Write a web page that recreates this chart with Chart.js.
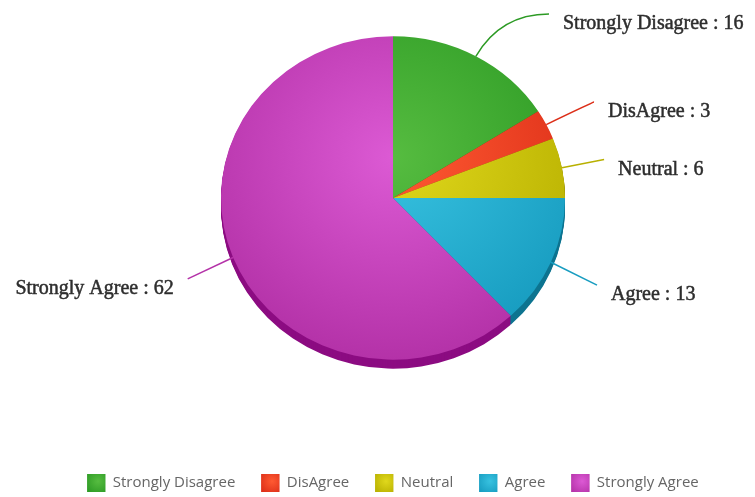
<!DOCTYPE html>
<html>
<head>
<meta charset="utf-8">
<script src="https://cdn.jsdelivr.net/npm/chart.js@4.4.0/dist/chart.umd.min.js"></script>
<style>
    html, body { margin: 0; padding: 0; background: #fff; overflow: hidden; }
    #wrap { width: 755px; height: 497px; }
</style>
</head>
<body>
<div id="wrap"><canvas id="pie-chart" width="755" height="497"></canvas></div>
<script>
const categories = ['Strongly Disagree', 'DisAgree', 'Neutral', 'Agree', 'Strongly Agree'];
const responses = [16, 3, 6, 13, 62];

const lightColors = ['#56bc40', '#ff5a32', '#e0d81c', '#38c2e0', '#dc5ad4'];
const baseColors = ['#2c9a24', '#dc2e18', '#b8b000', '#179cc0', '#b432a8'];
const sideColors = ['#1b6b14', '#a01c0c', '#868000', '#0d7490', '#8c0c82'];

const tilt = 0.94;   // vertical squash of the pie face
const depth = 9;     // thickness of the 3d side

function sliceGradient(c) {
    const chart = c.chart;
    const area = chart.chartArea;
    if (!area) return baseColors[c.dataIndex];
    const cx = (area.left + area.right) / 2;
    const cy = (area.top + area.bottom) / 2;
    const r = Math.min(area.width, area.height) / 2;
    const g = chart.ctx.createRadialGradient(cx, cy - r * 0.25, 0, cx, cy - r * 0.25, r * 1.25);
    g.addColorStop(0, lightColors[c.dataIndex]);
    g.addColorStop(1, baseColors[c.dataIndex]);
    return g;
}

const pie3d = {
    id: 'pie3d',
    beforeDatasetsDraw(chart) {
        const ctx = chart.ctx;
        const arcs = chart.getDatasetMeta(0).data;
        const cx = arcs[0].x, cy = arcs[0].y;
        for (let k = depth; k >= 1; k--) {
            ctx.save();
            ctx.translate(cx, cy + k);
            ctx.scale(1, tilt);
            ctx.translate(-cx, -cy);
            arcs.forEach((arc, i) => {
                ctx.beginPath();
                ctx.moveTo(arc.x, arc.y);
                ctx.arc(arc.x, arc.y, arc.outerRadius, arc.startAngle, arc.endAngle);
                ctx.closePath();
                ctx.fillStyle = sideColors[i];
                ctx.fill();
            });
            ctx.restore();
        }
        ctx.save();
        ctx.translate(cx, cy);
        ctx.scale(1, tilt);
        ctx.translate(-cx, -cy);
    },
    afterDatasetsDraw(chart) {
        chart.ctx.restore();
    }
};

const labelFontSize = 20;

const sliceLabels = {
    id: 'sliceLabels',
    afterDraw(chart) {
        const ctx = chart.ctx;
        const arcs = chart.getDatasetMeta(0).data;
        ctx.save();
        arcs.forEach((arc, i) => {
            const r = arc.outerRadius;
            const mid = (arc.startAngle + arc.endAngle) / 2;
            const cos = Math.cos(mid), sin = Math.sin(mid);
            const sign = cos >= 0 ? 1 : -1;
            const sx = arc.x + r * cos;
            const sy = arc.y + r * tilt * sin;
            let ly = arc.y + 1.25 * r * sin + 0.068 * r;
            ly = Math.max(ly, labelFontSize * 1.2);
            const lx = arc.x + sign * (0.68 * r + 0.64 * r * Math.abs(cos));
            const ex = lx - sign * 14, ey = ly - 10;
            let t = Math.abs(sin) > 0.05 ? (ey - sy) / (tilt * sin) : 0;
            let qx = sx + t * cos;
            if (sign > 0) qx = Math.min(Math.max(qx, sx), ex); else qx = Math.max(Math.min(qx, sx), ex);
            ctx.beginPath();
            ctx.moveTo(sx, sy);
            ctx.quadraticCurveTo(qx, ey, ex, ey);
            ctx.strokeStyle = baseColors[i];
            ctx.lineWidth = 1.5;
            ctx.stroke();

            ctx.font = labelFontSize + 'px "Liberation Serif", "Times New Roman", serif';
            ctx.fillStyle = '#2e2e2e';
            ctx.strokeStyle = '#2e2e2e';
            ctx.lineWidth = 0.5;
            ctx.textAlign = sign > 0 ? 'left' : 'right';
            ctx.textBaseline = 'middle';
            const text = categories[i] + ' : ' + responses[i];
            ctx.fillText(text, lx, ly);
            ctx.strokeText(text, lx, ly);
        });
        ctx.restore();

        // gradient legend boxes
        const legend = chart.legend;
        const bw = legend.options.labels.boxWidth, bh = legend.options.labels.boxHeight;
        legend.legendHitBoxes.forEach((box, i) => {
            const g = ctx.createRadialGradient(box.left + bw * 0.6, box.top + bh * 0.4, 0, box.left + bw * 0.6, box.top + bh * 0.4, bw * 0.8);
            g.addColorStop(0, lightColors[i]);
            g.addColorStop(1, baseColors[i]);
            ctx.fillStyle = g;
            ctx.fillRect(box.left, box.top, bw, bh);
        });
    }
};

new Chart(document.querySelector('#pie-chart').getContext('2d'), {
    type: 'pie',
    data: {
        labels: categories,
        datasets: [{
            data: responses,
            backgroundColor: sliceGradient,
            borderWidth: 0
        }]
    },
    options: {
        responsive: false,
        animation: false,
        devicePixelRatio: 1,
        layout: { padding: { top: 26, left: 31, right: 0, bottom: -5 } },
        plugins: {
            tooltip: { enabled: false },
            legend: {
                position: 'bottom',
                title: { display: true, text: '', font: { size: 10, lineHeight: 1 }, padding: { top: 68, bottom: 0 } },
                labels: {
                    boxWidth: 18,
                    boxHeight: 18,
                    padding: 26,
                    color: '#444',
                    font: { family: '"Open Sans", sans-serif', size: 15 },
                    generateLabels: (chart) => categories.map((name, i) => ({
                        text: name,
                        fillStyle: baseColors[i],
                        strokeStyle: baseColors[i],
                        lineWidth: 0,
                        index: i,
                        hidden: false
                    }))
                }
            }
        }
    },
    plugins: [pie3d, sliceLabels]
});
</script>
</body>
</html>
